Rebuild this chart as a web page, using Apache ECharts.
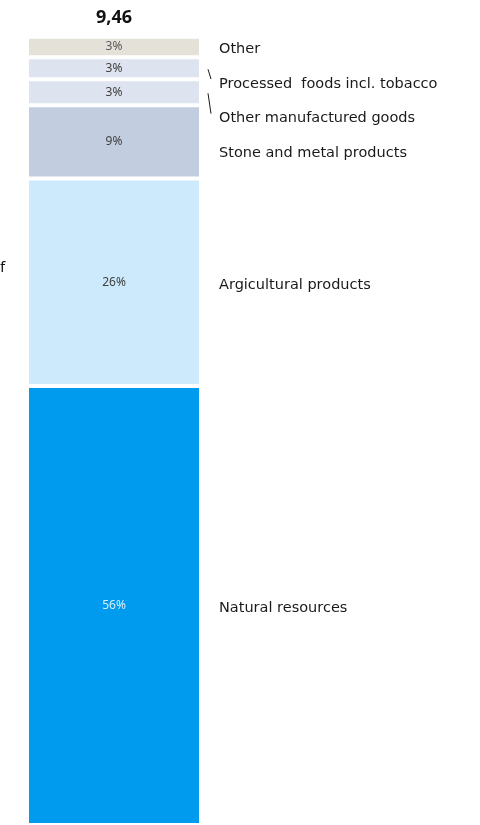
<!DOCTYPE html>
<html>
<head>
<meta charset="utf-8">
<script src="https://cdn.jsdelivr.net/npm/echarts@6/dist/echarts.min.js"></script>
<style>
  html, body { margin: 0; padding: 0; background: #fff; }
  #chart { width: 480px; height: 825px; }
</style>
</head>
<body>
<div id="chart"></div>
<script>
// Export composition, shares in percent (bottom to top of the stack)
const segmentNames = ['Natural resources', 'Argicultural products', 'Stone and metal products',
  'Other manufactured goods', 'Processed  foods incl. tobacco', 'Other'];
const segmentShares = [55.7, 26.3, 9.3, 3.3, 2.8, 2.6];
const segmentColors = ['#009bef', '#cceafb', '#c2cde0', '#dde4ef', '#dde4ef', '#e4e1d9'];
const shareLabelColors = ['#d8eefb', '#404040', '#404040', '#404040', '#404040', '#595959'];
const totalValue = 9.46;
const categories = [''];

const chart = echarts.init(document.getElementById('chart'), null, { renderer: 'canvas' });
const FONT = '"Noto Sans", sans-serif';
const NAME_FONT = '"DejaVu Sans", sans-serif';

const series = segmentNames.map((name, i) => ({
  name: name,
  type: 'bar',
  stack: 'total',
  barWidth: '100%',
  data: [segmentShares[i]],
  itemStyle: { color: segmentColors[i], borderColor: '#ffffff', borderWidth: 2 },
  label: {
    show: true,
    position: 'inside',
    formatter: p => Math.round(p.value) + '%',
    color: shareLabelColors[i],
    fontFamily: FONT,
    fontSize: 12
  },
  emphasis: { disabled: true }
}));

chart.setOption({
  animation: false,
  grid: { left: 27, width: 174, top: 36.7, bottom: -4 },
  xAxis: { type: 'category', data: categories, show: false },
  yAxis: { type: 'value', min: 0, max: 100, show: false },
  series: series
});

// Category names to the right of the stack, pushed down where segments are thin
const graphics = [];
const LABEL_X = 219;
const MIN_GAP = 34.6;
const NAME_SHIFT = 2.5;
let prevY = -Infinity;
const order = segmentNames.map((_, i) => i).reverse(); // top to bottom
let cum = segmentShares.reduce((a, b) => a + b, 0);
const centers = [];
order.forEach(i => {
  const mid = cum - segmentShares[i] / 2;
  cum -= segmentShares[i];
  centers[i] = chart.convertToPixel({ seriesIndex: 0 }, [0, mid])[1];
});
order.forEach(i => {
  const y = Math.max(centers[i] + NAME_SHIFT, prevY + MIN_GAP);
  prevY = y;
  graphics.push({
    type: 'text', x: LABEL_X, y: y,
    style: { text: segmentNames[i], font: '14.5px ' + NAME_FONT, fill: '#1a1a1a', verticalAlign: 'middle' }
  });
  if (y - centers[i] > 14) {
    graphics.push({
      type: 'line',
      shape: { x1: 208, y1: centers[i] + 1, x2: 211, y2: y - 5 },
      style: { stroke: '#1a1a1a', lineWidth: 1 }
    });
  }
});

// Total on top of the stack
const barCenterX = chart.convertToPixel({ xAxisIndex: 0 }, 0);
graphics.push({
  type: 'text', x: barCenterX, y: 18,
  style: {
    text: totalValue.toFixed(2).replace('.', ','),
    font: 'bold 18px ' + FONT, fill: '#111', align: 'center', verticalAlign: 'middle'
  }
});
// Clipped fragment of a side caption at the left edge
graphics.push({
  type: 'text', left: 0, top: 260,
  style: { text: 'f', font: '15px ' + FONT, fill: '#111' }
});

chart.setOption({ graphic: graphics });
</script>
</body>
</html>
